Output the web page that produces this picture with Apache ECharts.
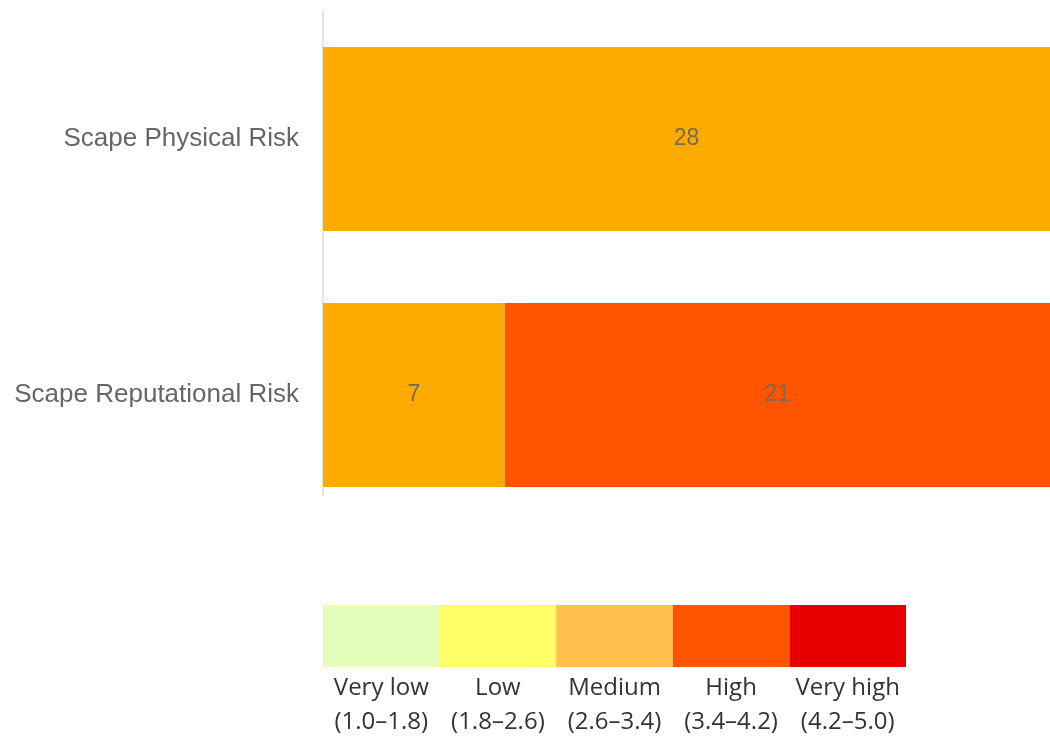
<!DOCTYPE html>
<html>
<head>
<meta charset="utf-8">
<script src="https://cdn.jsdelivr.net/npm/echarts@6/dist/echarts.min.js"></script>
<style>html,body{margin:0;padding:0;background:#fff;}#c{width:1050px;height:739px;}</style>
</head>
<body>
<div id="c"></div>
<script>
const categories = ['Scape Physical Risk', 'Scape Reputational Risk'];
const mediumValues = [28, 7];
const highValues = [null, 21];
const legendNames = ['Very low', 'Low', 'Medium', 'High', 'Very high'];
const legendRanges = ['(1.0\u20131.8)', '(1.8\u20132.6)', '(2.6\u20133.4)', '(3.4\u20134.2)', '(4.2\u20135.0)'];
const legendColors = ['#E4FDB9', '#FFFF66', '#FFC04C', '#FF5500', '#E60000'];
const legendValues = [1, 1, 1, 1, 1];

const chart = echarts.init(document.getElementById('c'));
const labelStyle = {
  show: true, position: 'inside', color: '#7a6a4c', fontSize: 23,
  fontFamily: '"Liberation Sans", Arial, sans-serif'
};
chart.setOption({
  animation: false,
  grid: [
    { left: 323, right: 0, top: 11, height: 512 },
    { left: 323, width: 583, top: 605, height: 63 }
  ],
  xAxis: [
    { gridIndex: 0, type: 'value', min: 0, max: 28, show: false },
    { gridIndex: 1, type: 'category', data: legendNames.map((n, i) => n + '\n' + legendRanges[i]),
      axisLine: { show: false }, axisTick: { show: false },
      axisLabel: { color: '#333', fontSize: 24, lineHeight: 34, margin: 4, interval: 0,
        fontFamily: '"Open Sans", sans-serif' } }
  ],
  yAxis: [
    { gridIndex: 0, type: 'category', data: categories, inverse: true,
      axisLine: { show: false }, axisTick: { show: false },
      axisLabel: { color: '#666', fontSize: 26, margin: 24, fontFamily: '"Liberation Sans", Arial, sans-serif' } },
    { gridIndex: 1, type: 'value', min: 0, max: 1, show: false }
  ],
  graphic: [
    { type: 'line', shape: { x1: 323, y1: 10, x2: 323, y2: 496 },
      style: { stroke: '#e6e6e6', lineWidth: 2 } }
  ],
  series: [
    { type: 'bar', name: 'Medium', stack: 's', xAxisIndex: 0, yAxisIndex: 0,
      data: mediumValues, barWidth: 184, itemStyle: { color: '#FFAA00' }, label: labelStyle },
    { type: 'bar', name: 'High', stack: 's', xAxisIndex: 0, yAxisIndex: 0,
      data: highValues, barWidth: 184, itemStyle: { color: '#FF5500' }, label: labelStyle },
    { type: 'bar', name: 'Legend', xAxisIndex: 1, yAxisIndex: 1, barWidth: '100%',
      data: legendValues.map((v, i) => ({ value: v, itemStyle: { color: legendColors[i] } })) }
  ]
});
</script>
</body>
</html>
